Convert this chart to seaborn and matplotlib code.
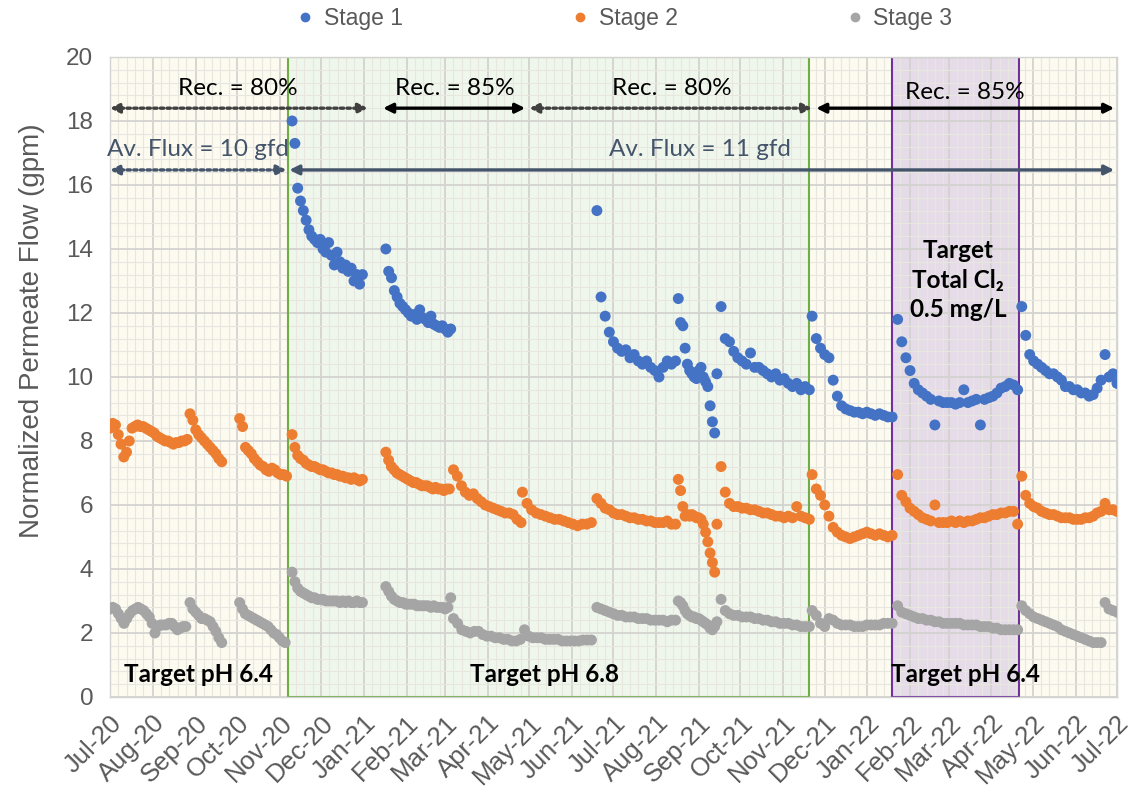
import matplotlib
matplotlib.use("Agg")
import matplotlib.dates as mdates
import matplotlib.pyplot as plt
import pandas as pd
import seaborn as sns
from matplotlib.lines import Line2D
from matplotlib.ticker import MultipleLocator

# ---- data ----
stage1_starts = ["2020-11-10", "2021-01-17", "2021-06-19", "2021-08-17",
                 "2021-09-17", "2021-11-22", "2022-01-23", "2022-04-23"]
stage1_ends = ["2020-12-31", "2021-03-05", "2021-08-15", "2021-09-14",
               "2021-11-20", "2022-01-19", "2022-04-20", "2022-07-01"]
stage1_values = [
    [18.0, 17.3, 15.9, 15.5, 15.2, 14.9, 14.6, 14.4, 14.3, 14.2, 14.3, 14.0, 13.9,
     14.2, 13.8, 13.5, 13.9, 13.6, 13.4, 13.5, 13.3, 13.4, 13.0, 13.2, 12.9, 13.2],
    [14.0, 13.3, 13.1, 12.7, 12.5, 12.3, 12.2, 12.1, 12.0, 11.9, 11.95, 11.8,
     12.1, 11.85, 11.8, 11.7, 11.9, 11.65, 11.6, 11.55, 11.6, 11.5, 11.4, 11.5],
    [15.2, 12.5, 11.9, 11.4, 11.1, 10.9, 10.8, 10.85, 10.6, 10.7, 10.5, 10.4,
     10.5, 10.3, 10.2, 10.0, 10.3, 10.5, 10.4, 10.5],
    [12.45, 11.7, 11.6, 10.9, 10.4, 10.2, 10.1, 10.0, 9.95, 10.2, 10.3, 10.0,
     9.85, 9.7, 9.1, 8.6, 8.25, 10.1],
    [12.2, 11.2, 11.1, 10.8, 10.6, 10.5, 10.4, 10.75, 10.3, 10.3, 10.2, 10.1,
     10.0, 10.1, 9.9, 9.95, 9.8, 9.7, 9.8, 9.6, 9.7, 9.6],
    [11.9, 11.2, 10.9, 10.7, 10.6, 9.9, 9.4, 9.1, 9.0, 8.95, 8.9, 8.9, 8.85,
     8.9, 8.85, 8.8, 8.85, 8.8, 8.75, 8.75],
    [11.8, 11.1, 10.6, 10.2, 9.8, 9.6, 9.5, 9.4, 9.3, 8.5, 9.25, 9.2, 9.2, 9.2,
     9.15, 9.2, 9.6, 9.2, 9.25, 9.3, 8.5, 9.3, 9.35, 9.4, 9.5, 9.65, 9.7, 9.8,
     9.75, 9.6],
    [12.2, 11.3, 10.7, 10.5, 10.4, 10.3, 10.2, 10.1, 10.1, 10.0, 9.9, 9.7, 9.7,
     9.6, 9.6, 9.5, 9.5, 9.4, 9.45, 9.65, 9.9, 10.7, 10.0, 10.1, 9.8],
]

stage2_starts = ["2020-07-01", "2020-08-28", "2020-10-03", "2020-11-10",
                 "2021-01-17", "2021-03-07", "2021-04-26", "2021-06-19",
                 "2021-08-17", "2021-09-17", "2021-11-22", "2022-01-23",
                 "2022-04-23"]
stage2_ends = ["2020-08-26", "2020-09-20", "2020-11-06", "2020-12-31",
               "2021-03-04", "2021-04-25", "2021-06-15", "2021-08-15",
               "2021-09-14", "2021-11-20", "2022-01-19", "2022-04-20",
               "2022-07-01"]
stage2_values = [
    [8.4, 8.55, 8.5, 8.2, 7.9, 7.5, 7.65, 8.0, 8.4, 8.45, 8.5, 8.45, 8.45, 8.4,
     8.35, 8.3, 8.25, 8.15, 8.1, 8.05, 8.0, 8.0, 7.95, 7.9, 7.95, 7.95, 8.0,
     8.0, 8.05],
    [8.85, 8.65, 8.35, 8.2, 8.1, 8.0, 7.9, 7.8, 7.7, 7.6, 7.45, 7.35],
    [8.7, 8.45, 7.8, 7.7, 7.6, 7.45, 7.35, 7.25, 7.2, 7.1, 7.05, 7.15, 7.1,
     7.0, 6.95, 6.95, 6.9],
    [8.2, 7.8, 7.55, 7.45, 7.4, 7.3, 7.25, 7.2, 7.2, 7.15, 7.1, 7.1, 7.05, 7.0,
     7.0, 6.95, 6.95, 6.9, 6.9, 6.85, 6.85, 6.8, 6.85, 6.8, 6.75, 6.8],
    [7.65, 7.4, 7.2, 7.1, 7.0, 6.95, 6.9, 6.85, 6.8, 6.75, 6.7, 6.7, 6.65, 6.6,
     6.6, 6.6, 6.55, 6.5, 6.55, 6.5, 6.5, 6.45, 6.5, 6.5],
    [7.1, 6.9, 6.6, 6.4, 6.3, 6.35, 6.2, 6.1, 6.0, 5.95, 5.9, 5.85, 5.8, 5.75,
     5.75, 5.7, 5.55, 5.45],
    [6.4, 6.05, 5.85, 5.75, 5.7, 5.65, 5.6, 5.55, 5.55, 5.5, 5.45, 5.4, 5.35,
     5.4, 5.4, 5.45],
    [6.2, 6.05, 5.9, 5.85, 5.75, 5.7, 5.7, 5.65, 5.6, 5.6, 5.55, 5.55, 5.5, 5.5,
     5.45, 5.45, 5.45, 5.5, 5.4, 5.4],
    [6.8, 6.45, 5.95, 5.65, 5.7, 5.65, 5.7, 5.65, 5.6, 5.6, 5.55, 5.4, 5.15,
     4.85, 4.5, 4.2, 3.9, 5.4],
    [7.2, 6.4, 6.05, 5.95, 5.95, 5.9, 5.9, 5.85, 5.85, 5.8, 5.75, 5.75, 5.7,
     5.65, 5.65, 5.6, 5.65, 5.6, 5.95, 5.65, 5.6, 5.55],
    [6.95, 6.5, 6.3, 6.0, 5.65, 5.3, 5.15, 5.05, 5.0, 4.95, 5.0, 5.05, 5.1,
     5.15, 5.1, 5.05, 5.1, 5.05, 5.0, 5.05],
    [6.95, 6.3, 6.1, 5.9, 5.8, 5.7, 5.6, 5.55, 5.5, 6.0, 5.45, 5.45, 5.45, 5.5,
     5.45, 5.5, 5.45, 5.5, 5.5, 5.55, 5.6, 5.6, 5.65, 5.7, 5.7, 5.75, 5.75, 5.8,
     5.8, 5.4],
    [6.9, 6.3, 6.05, 5.95, 5.9, 5.8, 5.75, 5.7, 5.7, 5.65, 5.6, 5.6, 5.6, 5.55,
     5.55, 5.55, 5.6, 5.6, 5.65, 5.75, 5.8, 6.05, 5.85, 5.85, 5.8],
]

stage3_starts = ["2020-07-01", "2020-08-28", "2020-10-03", "2020-11-10",
                 "2021-01-17", "2021-03-07", "2021-06-19", "2021-08-17",
                 "2021-09-17", "2021-11-22", "2022-01-23", "2022-04-23"]
stage3_ends = ["2020-08-25", "2020-09-20", "2020-11-05", "2020-12-31",
               "2021-03-05", "2021-06-15", "2021-08-15", "2021-09-14",
               "2021-11-20", "2022-01-19", "2022-04-20", "2022-07-01"]
stage3_values = [
    [2.75, 2.8, 2.75, 2.6, 2.45, 2.3, 2.45, 2.6, 2.7, 2.75, 2.8, 2.75, 2.7, 2.6,
     2.5, 2.3, 2.0, 2.2, 2.25, 2.25, 2.25, 2.3, 2.3, 2.2, 2.1, 2.15, 2.2, 2.2],
    [2.95, 2.75, 2.65, 2.55, 2.45, 2.45, 2.4, 2.35, 2.2, 2.05, 1.85, 1.7],
    [2.95, 2.75, 2.6, 2.55, 2.5, 2.45, 2.4, 2.35, 2.3, 2.25, 2.2, 2.1, 2.0,
     1.95, 1.85, 1.75, 1.7],
    [3.9, 3.6, 3.4, 3.3, 3.25, 3.2, 3.15, 3.1, 3.1, 3.05, 3.05, 3.05, 3.0, 3.0,
     3.0, 3.0, 3.0, 2.95, 3.0, 2.95, 3.0, 2.95, 2.95, 3.0, 2.95, 2.95],
    [3.45, 3.3, 3.15, 3.05, 3.0, 2.95, 2.95, 2.9, 2.9, 2.9, 2.9, 2.85, 2.85,
     2.85, 2.85, 2.85, 2.8, 2.85, 2.8, 2.8, 2.8, 2.75, 2.8, 3.1],
    [2.45, 2.3, 2.1, 2.05, 2.0, 2.05, 2.05, 1.95, 1.9, 1.9, 1.85, 1.85, 1.8,
     1.8, 1.75, 1.75, 1.8, 2.1, 1.9, 1.85, 1.85, 1.85, 1.8, 1.8, 1.8, 1.8,
     1.75, 1.75, 1.75, 1.75, 1.75, 1.78, 1.78, 1.78],
    [2.8, 2.75, 2.7, 2.65, 2.6, 2.55, 2.55, 2.5, 2.5, 2.5, 2.45, 2.45, 2.45,
     2.4, 2.4, 2.4, 2.4, 2.35, 2.4, 2.4],
    [3.0, 2.95, 2.85, 2.7, 2.6, 2.55, 2.5, 2.5, 2.45, 2.45, 2.4, 2.35, 2.3,
     2.25, 2.15, 2.1, 2.2, 2.35],
    [3.05, 2.7, 2.6, 2.55, 2.55, 2.5, 2.5, 2.5, 2.45, 2.45, 2.4, 2.4, 2.35,
     2.35, 2.3, 2.3, 2.3, 2.25, 2.25, 2.2, 2.2, 2.2],
    [2.7, 2.55, 2.3, 2.2, 2.45, 2.4, 2.3, 2.25, 2.25, 2.25, 2.2, 2.2, 2.2, 2.25,
     2.25, 2.25, 2.25, 2.3, 2.3, 2.3],
    [2.85, 2.65, 2.6, 2.55, 2.5, 2.45, 2.45, 2.4, 2.4, 2.35, 2.35, 2.3, 2.3,
     2.3, 2.3, 2.3, 2.25, 2.25, 2.25, 2.25, 2.2, 2.2, 2.2, 2.15, 2.15, 2.1,
     2.1, 2.1, 2.1, 2.1],
    [2.85, 2.7, 2.6, 2.5, 2.45, 2.4, 2.35, 2.3, 2.25, 2.2, 2.1, 2.05, 2.0, 1.95,
     1.9, 1.85, 1.8, 1.75, 1.7, 1.7, 1.7, 2.95, 2.75, 2.7, 2.65],
]

stage_names = ["Stage 1", "Stage 2", "Stage 3"]
stage_colors = ["#4472C4", "#ED7D31", "#A5A5A5"]


def build_frame(name, starts, ends, values):
    parts = []
    for start, end, vals in zip(starts, ends, values):
        dates = pd.date_range(start, end, periods=len(vals))
        parts.append(pd.DataFrame({"date": dates, "flow": vals, "stage": name}))
    return pd.concat(parts, ignore_index=True)


df = pd.concat([
    build_frame("Stage 1", stage1_starts, stage1_ends, stage1_values),
    build_frame("Stage 2", stage2_starts, stage2_ends, stage2_values),
    build_frame("Stage 3", stage3_starts, stage3_ends, stage3_values),
], ignore_index=True)

# ---- style ----
sns.set_theme(style="white")
plt.rcParams["font.family"] = ["Liberation Sans Narrow", "Liberation Sans", "DejaVu Sans"]
ANNOT_FONT = ["Lato", "DejaVu Sans"]
GREY_TXT = "#595959"
FLUX_COL = "#44546A"

fig = plt.figure(figsize=(11.35, 7.87), dpi=100)
ax = fig.add_axes([0.0969, 0.1144, 0.8872, 0.8132])
ax.set_facecolor("#FDFBF0")

ts = pd.Timestamp
# shaded periods
ax.axvspan(ts("2020-11-07"), ts("2021-11-20"), color="#EFF6EC", zorder=0.1, lw=0)
ax.axvspan(ts("2022-01-19"), ts("2022-04-21"), color="#E6DCE9", zorder=0.1, lw=0)
ax.axvspan(ts("2020-11-07"), ts("2021-11-20"), fill=False, edgecolor="#70AD47", lw=1.5, zorder=1.5)
ax.axvspan(ts("2022-01-19"), ts("2022-04-21"), fill=False, edgecolor="#7030A0", lw=1.5, zorder=1.5)

sns.scatterplot(data=df, x="date", y="flow", hue="stage", hue_order=stage_names,
                palette=stage_colors, s=62, edgecolor="none", linewidth=0,
                legend=False, ax=ax, zorder=3)

# axes
ax.set_xlim(ts("2020-07-01"), ts("2022-07-01"))
ax.set_ylim(0, 20)
ax.yaxis.set_major_locator(MultipleLocator(2))
ax.yaxis.set_minor_locator(MultipleLocator(0.4))
ax.xaxis.set_major_locator(mdates.MonthLocator())
ax.xaxis.set_minor_locator(mdates.DayLocator(bymonthday=[7, 13, 19, 25]))
ax.xaxis.set_major_formatter(mdates.DateFormatter("%b-%y"))
ax.set_axisbelow(True)
ax.grid(which="major", color="#D3D3CF", lw=1.3)
ax.grid(which="minor", color="#E8E7DF", lw=0.8)
for sp in ax.spines.values():
    sp.set_color("#D3D3CF")
    sp.set_linewidth(1.0)
ax.tick_params(axis="both", which="both", length=0, colors=GREY_TXT)
ax.tick_params(axis="y", labelsize=17.5, pad=12)
ax.tick_params(axis="x", labelsize=18.5, pad=10)
plt.setp(ax.get_xticklabels(), rotation=45, ha="right", rotation_mode="anchor")
ax.set_xlabel("")
ax.set_ylabel("Normalized Permeate Flow (gpm)", fontsize=20, color=GREY_TXT)
ax.yaxis.set_label_coords(-0.065, 0.572)


# ---- annotations ----
def arrow(x0, x1, y, color, dotted):
    ls = (0, (1, 1)) if dotted else "-"
    ax.annotate("", xy=(ts(x1), y), xytext=(ts(x0), y),
                arrowprops=dict(arrowstyle="<|-|>", color=color, lw=2.4, linestyle=ls,
                                shrinkA=0, shrinkB=0, mutation_scale=14),
                zorder=4)


rec_y = 18.4
arrow("2020-07-01", "2021-01-04", rec_y, "#404040", True)
arrow("2021-01-15", "2021-04-28", rec_y, "black", False)
arrow("2021-05-01", "2021-11-22", rec_y, "#404040", True)
arrow("2021-11-25", "2022-06-29", rec_y, "black", False)
flux_y = 16.47
arrow("2020-07-01", "2020-11-06", flux_y, FLUX_COL, True)
arrow("2020-11-08", "2022-06-29", flux_y, FLUX_COL, False)

txt = dict(ha="center", va="center", fontsize=17.5, family=ANNOT_FONT, zorder=5)
ax.text(ts("2020-10-02"), 19.03, "Rec. = 80%", color="black", **txt)
ax.text(ts("2021-03-08"), 19.03, "Rec. = 85%", color="black", **txt)
ax.text(ts("2021-08-12"), 19.03, "Rec. = 80%", color="black", **txt)
ax.text(ts("2022-03-13"), 18.9, "Rec. = 85%", color="black", **txt)
ax.text(ts("2020-09-03"), 17.1, "Av. Flux = 10 gfd", color=FLUX_COL, **txt)
ax.text(ts("2021-09-02"), 17.1, "Av. Flux = 11 gfd", color=FLUX_COL, **txt)

bold = dict(ha="center", va="center", fontsize=17.5, fontweight="bold", family=ANNOT_FONT,
            color="black", zorder=5)
ax.text(ts("2020-09-03"), 0.69, "Target pH 6.4", **bold)
ax.text(ts("2021-05-12"), 0.69, "Target pH 6.8", **bold)
ax.text(ts("2022-03-13"), 0.69, "Target pH 6.4", **bold)
ax.text(ts("2022-03-08"), 13.03, "Target\nTotal Cl\u2082\n0.5 mg/L", linespacing=1.35, **bold)

# ---- legend ----
handles = [Line2D([], [], marker="o", ls="", color=c, markersize=6) for c in stage_colors]
fig.legend(handles, stage_names, loc="center", bbox_to_anchor=(0.551, 0.977), ncol=3,
           frameon=False, fontsize=16.5, labelcolor=GREY_TXT, handlelength=0.6,
           handletextpad=0.5, columnspacing=7.45)

fig.savefig("out.png", dpi=100)
